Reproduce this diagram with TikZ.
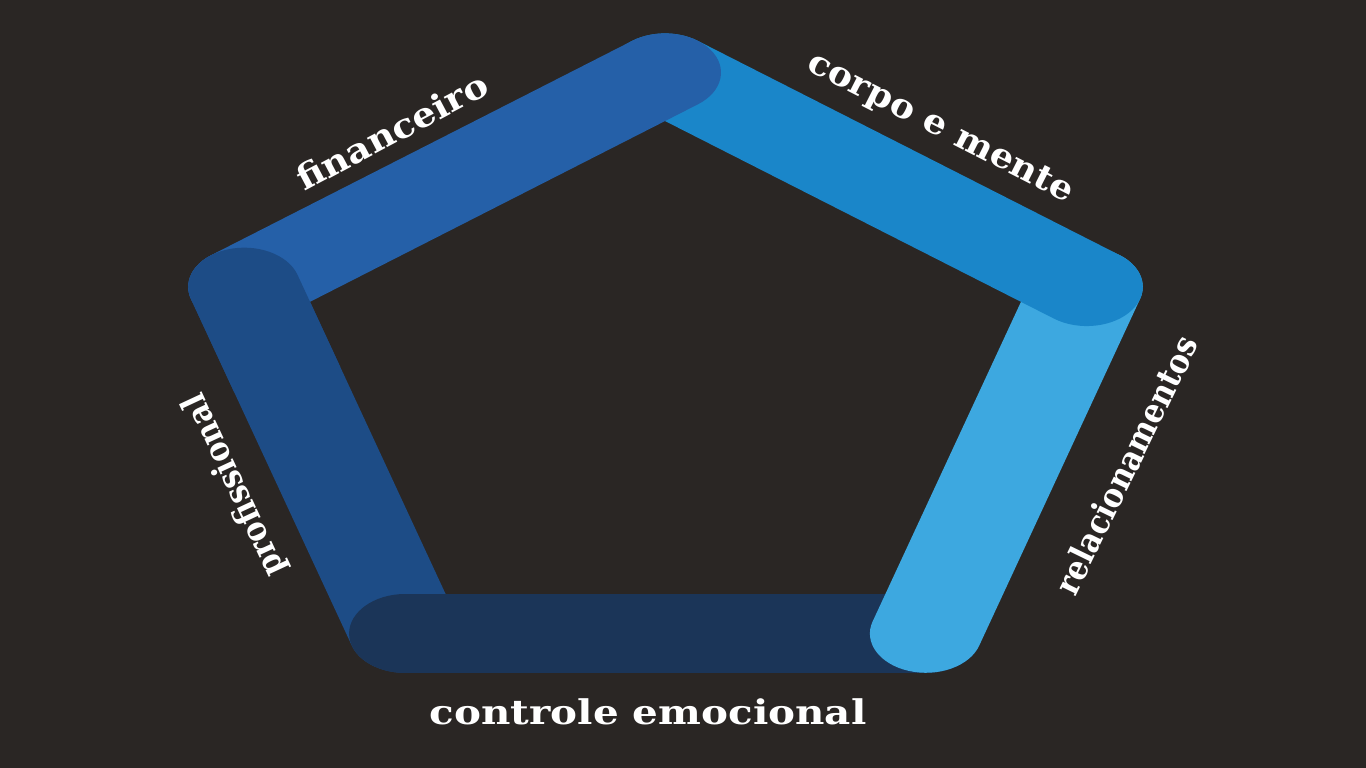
\documentclass[tikz,border=0pt]{standalone}
\usepackage{fontspec}
\setmainfont{DejaVu Serif}
\definecolor{bg}{RGB}{42,38,36}
\definecolor{cfin}{HTML}{2560A8}
\definecolor{ccorp}{HTML}{1A86C9}
\definecolor{crel}{HTML}{3DA8E0}
\definecolor{cctrl}{HTML}{1B3558}
\definecolor{cprof}{HTML}{1D4C86}
\tikzset{
  lbl/.style={text=white, font=\bfseries\fontsize{34}{34}\selectfont, inner sep=0pt},
  bar/.style={line width=112pt, line cap=round}
}
\begin{document}
\begin{tikzpicture}[x=1pt,y=-1pt]
\fill[bg] (0,0) rectangle (1366,768);
\useasboundingbox (0,0) rectangle (1366,768);
\begin{scope}[transform canvas={yscale=0.7}]
  \coordinate (T) at (665,103.7);
  \coordinate (L) at (244.2,409.8);
  \coordinate (R) at (1086.8,409.8);
  \coordinate (BL) at (405.1,905.1);
  \coordinate (BR) at (925.9,905.1);
  \draw[bar, cprof] (L) -- (BL);
  \draw[bar, cctrl] (BL) -- (BR);
  \draw[bar, crel] (BR) -- (R);
  \draw[bar, ccorp] (R) -- (T);
  \draw[bar, cfin] (T) -- (L);
  \begin{scope}
    \clip (L) circle (150);
    \draw[bar, cprof] (L) -- (BL);
  \end{scope}
\end{scope}
\node[lbl, rotate=28] (fin) at (392,131) {\scalebox{1.1}[1]{financeiro}};
\node[lbl, rotate=-27] (corp) at (940,129) {\scalebox{1.08}[1]{corpo e mente}};
\node[lbl, rotate=64] (rel) at (1126,465) {\scalebox{0.89}[1]{relacionamentos}};
\node[lbl, rotate=115] (prof) at (235,485) {\scalebox{0.89}[1]{profissional}};
\node[lbl] (ctrl) at (648,712) {\scalebox{1.19}[1]{controle emocional}};
\end{tikzpicture}
\end{document}
